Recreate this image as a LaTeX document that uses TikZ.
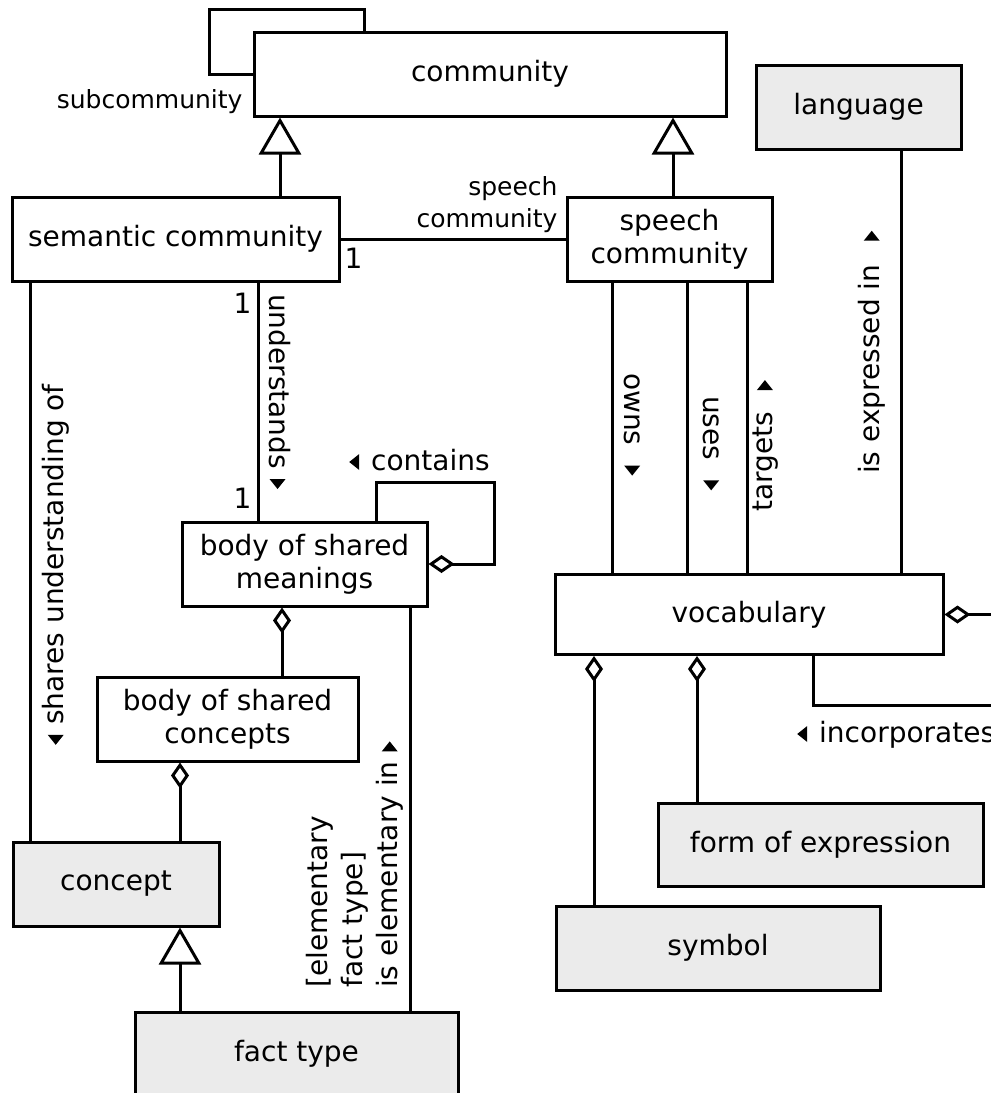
\documentclass[tikz,border=0pt]{standalone}
\usepackage{fontspec}
\setmainfont{DejaVu Sans}
\usetikzlibrary{arrows.meta}
\definecolor{boxgray}{HTML}{EBEBEB}
% small filled direction markers for association readings
\newcommand\rtri{\tikz[baseline=0pt]\fill (0pt,0pt) -- (0pt,16pt) -- (10pt,8pt) -- cycle;}
\newcommand\ltri{\tikz[baseline=0pt]\fill (10pt,0pt) -- (10pt,16pt) -- (0pt,8pt) -- cycle;}
\begin{document}
\begin{tikzpicture}[x=1pt,y=-1pt,line width=3pt,
  box/.style={draw,inner sep=0pt,align=center,font=\fontsize{28}{33}\selectfont},
  gbox/.style={box,fill=boxgray},
  lbl/.style={inner sep=0pt,font=\fontsize{28}{35}\selectfont},
  role/.style={inner sep=0pt,font=\fontsize{25}{32}\selectfont,align=right},
  gen/.style={-{Triangle[open,length=37pt,width=42pt]}},
  agg/.style={-{Diamond[open,length=26pt,width=18pt]}},
]
\useasboundingbox (0,0) rectangle (991,1093);
\clip (0,0) rectangle (991,1093);

% classes
\node[box,minimum width=472pt,minimum height=84pt] (comm) at (490,74) {community};
\node[gbox,minimum width=205pt,minimum height=84pt] (lang) at (858.5,107) {language};
\node[box,minimum width=327pt,minimum height=84pt] (semcom) at (175.5,239) {semantic community};
\node[box,minimum width=205pt,minimum height=84pt] (speech) at (669.5,239) {speech\\community};
\node[box,minimum width=245pt,minimum height=84pt] (bsm) at (304.5,564) {body of shared\\meanings};
\node[box,minimum width=261pt,minimum height=84pt] (bsc) at (227.5,719) {body of shared\\concepts};
\node[gbox,minimum width=206pt,minimum height=84pt] (concept) at (116,884) {concept};
\node[gbox,minimum width=323pt,minimum height=84pt] (fact) at (296.5,1054) {fact type};
\node[box,minimum width=388pt,minimum height=80pt] (vocab) at (749,614.5) {vocabulary};
\node[gbox,minimum width=325pt,minimum height=83pt] (foe) at (820.5,844.5) {form of expression};
\node[gbox,minimum width=324pt,minimum height=84pt] (symbol) at (718,948) {symbol};

\coordinate (aggend) at (1000,614.5);
\coordinate (incend) at (1000,705);

% generalizations
\draw[gen] (280,0 |- semcom.north) -- (280,0 |- comm.south);
\draw[gen] (673,0 |- speech.north) -- (673,0 |- comm.south);
\draw[gen] (180,0 |- fact.north) -- (180,0 |- concept.south);

% associations
\draw (comm.west) -- (209,0 |- comm.west) |- (364,9) -- (364,0 |- comm.north);
\draw (semcom.east) -- (speech.west);
\draw (30,0 |- semcom.south) -- (30,0 |- concept.north);
\draw (258,0 |- semcom.south) -- (258,0 |- bsm.north);
\draw (410,0 |- bsm.south) -- (410,0 |- fact.north);
\draw (612,0 |- speech.south) -- (612,0 |- vocab.north);
\draw (687,0 |- speech.south) -- (687,0 |- vocab.north);
\draw (747,0 |- speech.south) -- (747,0 |- vocab.north);
\draw (901,0 |- lang.south) -- (901,0 |- vocab.north);
\draw (813,0 |- vocab.south) |- (incend);

% aggregations
\draw[agg] (376,0 |- bsm.north) |- (494,482) |- (bsm.east);
\draw[agg] (282,0 |- bsc.north) -- (282,0 |- bsm.south);
\draw[agg] (180,0 |- concept.north) -- (180,0 |- bsc.south);
\draw[agg] (594,0 |- symbol.north) -- (594,0 |- vocab.south);
\draw[agg] (697,0 |- foe.north) -- (697,0 |- vocab.south);
\draw[agg] (aggend) -- (vocab.east);

% role names and multiplicities
\node[role,anchor=base east] (rsub) at (244,108) {subcommunity};
\node[role,anchor=south east] (rspeech) at (559,234) {speech\\community};
\node[lbl,anchor=base west] (m1) at (343,268) {1};
\node[lbl,anchor=base west] (m2) at (232,313) {1};
\node[lbl,anchor=base west] (m3) at (232,508) {1};

% association readings
\node[lbl,rotate=90,anchor=west] (lshares) at (56,745) {\ltri\hspace{10pt}shares understanding of};
\node[lbl,rotate=-90,anchor=west] (lunder) at (280,294) {understands\hspace{10pt}\rtri};
\node[lbl,anchor=base west] (lcont) at (349,470) {\ltri\hspace{12pt}contains};
\node[lbl,rotate=90,anchor=west,align=left] (lelem) at (355,988) {[elementary\\fact type]\\is elementary in\hspace{10pt}\rtri};
\node[lbl,rotate=-90,anchor=west] (lowns) at (632,373) {owns\hspace{20pt}\rtri};
\node[lbl,rotate=-90,anchor=west] (luses) at (711,396) {uses\hspace{20pt}\rtri};
\node[lbl,rotate=90,anchor=west] (ltarg) at (766,512) {targets\hspace{22pt}\rtri};
\node[lbl,rotate=90,anchor=west] (lexpr) at (872,474) {is expressed in\hspace{24pt}\rtri};
\node[lbl,anchor=base west] (linc) at (797,742) {\ltri\hspace{12pt}incorporates};
\end{tikzpicture}
\end{document}
